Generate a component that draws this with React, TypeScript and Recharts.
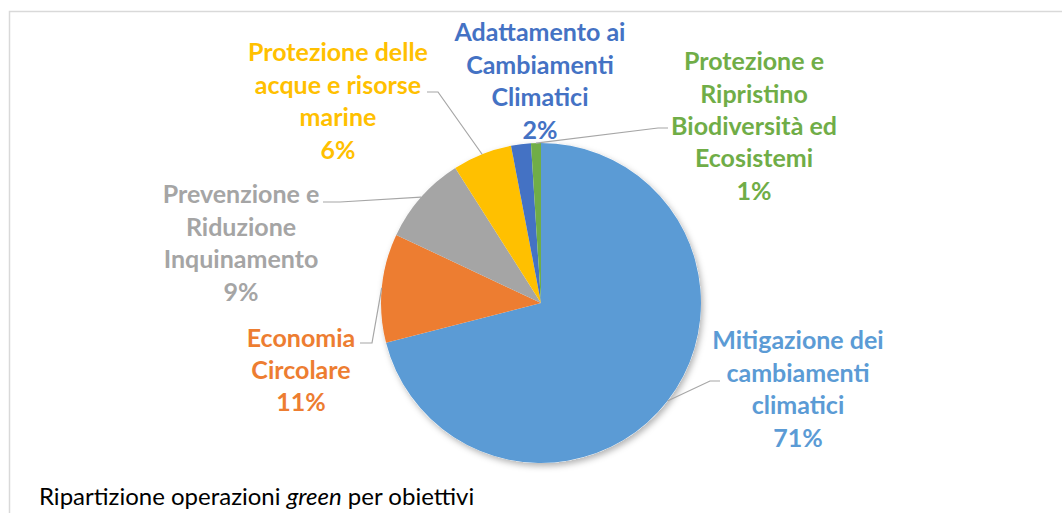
import React from 'react';
import { PieChart, Pie, Cell } from 'recharts';

// categories, shares (%), slice colours
const categories = [
  'Mitigazione dei\ncambiamenti\nclimatici',
  'Economia\nCircolare',
  'Prevenzione e\nRiduzione\nInquinamento',
  'Protezione delle\nacque e risorse\nmarine',
  'Adattamento ai\nCambiamenti\nClimatici',
  'Protezione e\nRipristino\nBiodiversità ed\nEcosistemi',
];
const shares = [71, 11, 9, 6, 2, 1];
const colors = ['#5B9BD5', '#ED7D31', '#A5A5A5', '#FFC000', '#4472C4', '#70AD47'];

// label block centre (dx, dy) and leader end (lx, ly), offsets from pie centre
const labelLayout = [
  { dx: 257, dy: 86, lx: 179, ly: 78, elbow: -10 },
  { dx: -240, dy: 67, lx: -181, ly: 40, elbow: 12 },
  { dx: -300, dy: -60, lx: -218, ly: -101, elbow: 17 },
  { dx: -203, dy: -202, lx: -114, ly: -211, elbow: 11 },
  { dx: -1, dy: -222, lx: null, ly: null, elbow: 0 },
  { dx: 213, dy: -177, lx: 127, ly: -175, elbow: -10 },
];

const data = categories.map((name, i) => ({ name, value: shares[i] }));

const FONT = 'Lato, "Open Sans", sans-serif';
const LINE_H = 32.4;
const RAD = Math.PI / 180;
const MARGIN = { top: 0, right: 0, bottom: 0, left: 0 };

const renderLabel = (props: any) => {
  const { cx, cy, midAngle, outerRadius, index, percent } = props;
  const lay = labelLayout[index];
  const lines = categories[index].split('\n').concat(`${Math.round(percent * 100)}%`);
  const x = cx + lay.dx;
  const first = cy + lay.dy - ((lines.length - 1) * LINE_H) / 2 + 9;

  let leader = null;
  if (lay.lx !== null) {
    const sx = cx + outerRadius * Math.cos(-midAngle * RAD);
    const sy = cy + outerRadius * Math.sin(-midAngle * RAD);
    const endX = cx + lay.lx;
    const endY = cy + (lay.ly as number);
    leader = (
      <polyline
        points={`${sx},${sy} ${endX + lay.elbow},${endY} ${endX},${endY}`}
        fill="none"
        stroke="#A6A6A6"
        strokeWidth={1.2}
      />
    );
  }

  return (
    <g key={`lbl-${index}`}>
      {leader}
      <text
        x={x}
        y={first}
        textAnchor="middle"
        fill={colors[index]}
        style={{ fontFamily: FONT, fontWeight: 700, fontSize: 25 }}
      >
        {lines.map((l, i) => (
          <tspan key={i} x={x} y={first + i * LINE_H}>
            {l}
          </tspan>
        ))}
      </text>
    </g>
  );
};

export default function App() {
  return (
    <div style={{ position: 'absolute', left: 0, top: 0, width: 1062, height: 513, overflow: 'hidden', background: '#fff' }}>
      <svg width={1062} height={513} style={{ position: 'absolute', left: 0, top: 0 }}>
        <rect x={9.5} y={11.5} width={1100} height={600} fill="#fff" stroke="#D9D9D9" strokeWidth={1.5} />
        <text x={39} y={505} style={{ fontFamily: FONT, fontSize: 24 }} fill="#000">
          Ripartizione operazioni <tspan fontStyle="italic">green</tspan> per obiettivi
        </text>
      </svg>
      <div style={{ position: 'absolute', left: 0, top: 0 }}>
        <PieChart width={1062} height={513} margin={MARGIN}>
          <defs>
            <filter id="pieShadow" x="-20%" y="-20%" width="140%" height="140%">
              <feDropShadow dx={2} dy={3} stdDeviation={3} floodColor="#000" floodOpacity={0.3} />
            </filter>
          </defs>
          <Pie
            data={[{ name: 'base', value: 1 }]}
            dataKey="value"
            cx={541}
            cy={303}
            outerRadius={160}
            startAngle={90}
            endAngle={-270}
            stroke="none"
            isAnimationActive={false}
            label={false}
            labelLine={false}
          >
            <Cell fill="#fff" filter="url(#pieShadow)" />
          </Pie>
          <Pie
            data={data}
            dataKey="value"
            nameKey="name"
            cx={541}
            cy={303}
            outerRadius={160}
            startAngle={90}
            endAngle={-270}
            stroke="none"
            isAnimationActive={false}
            label={renderLabel}
            labelLine={false}
          >
            {data.map((d, i) => (
              <Cell key={d.name} fill={colors[i]} />
            ))}
          </Pie>
        </PieChart>
      </div>
    </div>
  );
}
